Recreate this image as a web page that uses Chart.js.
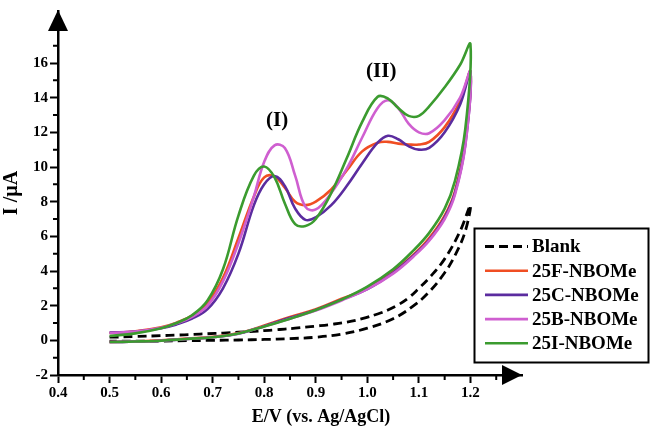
<!DOCTYPE html>
<html>
<head>
<meta charset="utf-8">
<script src="https://cdn.jsdelivr.net/npm/chart.js@4.4.1/dist/chart.umd.min.js"></script>
<style>
  html, body { margin: 0; padding: 0; background: #fff; }
  #wrap { width: 653px; height: 429px; }
</style>
</head>
<body>
<div id="wrap"><canvas id="cv" width="653" height="429"></canvas></div>
<script>
// potentials (V vs Ag/AgCl) for the anodic (forward) and cathodic (reverse) sweep
const potentialFwd = [0.5, 0.55, 0.6, 0.63, 0.66, 0.69, 0.72, 0.75, 0.78, 0.8, 0.82, 0.84, 0.86, 0.88,
                      0.9, 0.93, 0.96, 0.99, 1.02, 1.04, 1.06, 1.08, 1.1, 1.12, 1.15, 1.18, 1.2];
const potentialRev = [1.19, 1.17, 1.15, 1.12, 1.09, 1.05, 1.0, 0.95, 0.9, 0.85, 0.8, 0.75, 0.7, 0.65, 0.6, 0.55, 0.5];

// currents (µA)
const blankFwd = [0.18, 0.22, 0.27, 0.3, 0.34, 0.38, 0.42, 0.47, 0.52, 0.56, 0.6, 0.65, 0.7, 0.76,
                  0.82, 0.92, 1.05, 1.25, 1.52, 1.75, 2.05, 2.45, 3.0, 3.6, 4.7, 6.3, 7.8];
const blankRev = [6.3, 4.9, 3.9, 2.8, 2.0, 1.25, 0.7, 0.36, 0.18, 0.1, 0.05, 0.02, 0.0, -0.02, -0.04, -0.05, -0.05];

const f25Fwd = [0.42, 0.52, 0.75, 1.02, 1.42, 2.15, 3.6, 5.9, 8.3, 9.4, 9.45, 8.8, 8.0, 7.8,
                8.0, 8.7, 9.8, 10.9, 11.4, 11.45, 11.35, 11.3, 11.3, 11.45, 12.3, 13.8, 15.5];
const f25Rev = [11.5, 8.6, 7.2, 5.9, 4.95, 3.95, 3.0, 2.4, 1.8, 1.35, 0.85, 0.42, 0.2, 0.1, 0.0, -0.06, -0.1];

const c25Fwd = [0.45, 0.5, 0.7, 0.92, 1.25, 1.8, 3.0, 5.0, 7.8, 9.0, 9.48, 8.9, 7.6, 6.95,
                7.1, 7.8, 8.9, 10.2, 11.4, 11.8, 11.6, 11.2, 11.0, 11.1, 12.0, 13.6, 15.5];
const c25Rev = [11.3, 8.5, 7.1, 5.8, 4.9, 3.9, 2.95, 2.35, 1.75, 1.3, 0.82, 0.38, 0.18, 0.08, -0.02, -0.07, -0.1];

const b25Fwd = [0.42, 0.5, 0.72, 0.98, 1.35, 2.0, 3.4, 5.6, 8.3, 10.3, 11.25, 11.1, 9.5, 7.7,
                7.55, 8.5, 9.9, 11.7, 13.4, 13.85, 13.4, 12.5, 12.0, 11.95, 12.7, 14.0, 15.5];
const b25Rev = [11.2, 8.4, 7.0, 5.75, 4.85, 3.85, 2.95, 2.3, 1.72, 1.25, 0.8, 0.4, 0.18, 0.08, -0.02, -0.07, -0.1];

const i25Fwd = [0.25, 0.4, 0.7, 1.0, 1.45, 2.3, 4.1, 7.2, 9.5, 10.03, 9.4, 7.9, 6.7, 6.6,
                7.0, 8.5, 10.5, 12.6, 14.05, 13.95, 13.4, 12.95, 12.95, 13.5, 14.6, 15.9, 17.08];
const i25Rev = [12.2, 9.2, 7.6, 6.2, 5.2, 4.1, 3.1, 2.35, 1.75, 1.25, 0.8, 0.4, 0.18, 0.08, -0.02, -0.07, -0.1];

const seriesNames = ['Blank', '25F-NBOMe', '25C-NBOMe', '25B-NBOMe', '25I-NBOMe'];
const seriesColors = ['#000000', '#f04e23', '#5b2c9f', '#cf5fd0', '#3b9b2f'];

const xTicks = [0.4, 0.5, 0.6, 0.7, 0.8, 0.9, 1.0, 1.1, 1.2];
const yTicks = [-2, 0, 2, 4, 6, 8, 10, 12, 14, 16];

const peakLabels = ['(I)', '(II)'];
const peakLabelE = [0.825, 1.027];
const peakLabelI = [12.7, 15.5];

const xTitle = 'E/V (vs. Ag/AgCl)';
const yTitle = 'I /µA';

const SERIF = '"Liberation Serif", "Times New Roman", serif';

function cycle(fwd, rev) {
    const pts = potentialFwd.map((e, i) => ({ x: e, y: fwd[i] }));
    return pts.concat(potentialRev.map((e, i) => ({ x: e, y: rev[i] })));
}

const curves = [
    cycle(blankFwd, blankRev),
    cycle(f25Fwd, f25Rev),
    cycle(c25Fwd, c25Rev),
    cycle(b25Fwd, b25Rev),
    cycle(i25Fwd, i25Rev)
];

const datasets = curves.map((pts, i) => ({
    label: seriesNames[i],
    data: pts,
    borderColor: seriesColors[i],
    borderWidth: i === 0 ? 2.8 : 2.6,
    borderDash: i === 0 ? [9, 5] : [],
    pointRadius: 0,
    tension: 0.4,
    fill: false,
    order: seriesNames.length - i   // green ends up on top
}));

/* ---------- extras: minor ticks, arrows, labels, legend ---------- */
const extrasPlugin = {
    id: 'cvExtras',
    afterDraw(chart) {
        const ctx = chart.ctx;
        const xs = chart.scales.x, ys = chart.scales.y;
        const a = chart.chartArea;
        ctx.save();

        // minor ticks
        ctx.strokeStyle = '#000';
        ctx.lineWidth = 2;
        ctx.beginPath();
        for (let i = 0; i < xTicks.length; i++) {
            const v = xTicks[i] + 0.05;
            if (v > xs.max) break;
            const px = xs.getPixelForValue(v);
            ctx.moveTo(px, a.bottom);
            ctx.lineTo(px, a.bottom + 5);
        }
        for (let i = 0; i < yTicks.length; i++) {
            const py = ys.getPixelForValue(yTicks[i] + 1);
            ctx.moveTo(a.left, py);
            ctx.lineTo(a.left - 5, py);
        }
        ctx.stroke();

        // axis arrows
        ctx.fillStyle = '#000';
        ctx.beginPath();
        ctx.moveTo(a.left, a.top - 1);
        ctx.lineTo(a.left - 10, a.top + 20);
        ctx.lineTo(a.left + 10, a.top + 20);
        ctx.closePath();
        ctx.fill();
        ctx.beginPath();
        ctx.moveTo(a.right, a.bottom);
        ctx.lineTo(a.right - 20, a.bottom - 10);
        ctx.lineTo(a.right - 20, a.bottom + 10);
        ctx.closePath();
        ctx.fill();

        // x axis title (sits right of centre in the original)
        ctx.font = 'bold 18px ' + SERIF;
        ctx.textAlign = 'center';
        ctx.textBaseline = 'middle';
        ctx.fillText(xTitle, 321, 417);

        // peak labels
        ctx.font = 'bold 21px ' + SERIF;
        peakLabels.forEach((t, i) => {
            ctx.fillText(t, xs.getPixelForValue(peakLabelE[i]), ys.getPixelForValue(peakLabelI[i]));
        });

        // legend box
        const bx = 474.5, by = 228.5, bw = 174, bh = 134;
        ctx.fillStyle = '#fff';
        ctx.fillRect(bx, by, bw, bh);
        ctx.lineWidth = 2;
        ctx.strokeStyle = '#000';
        ctx.strokeRect(bx, by, bw, bh);
        ctx.font = 'bold 19px ' + SERIF;
        ctx.textAlign = 'left';
        chart.data.datasets.forEach((ds, i) => {
            const y = 246.5 + i * 24.2;
            ctx.strokeStyle = ds.borderColor;
            ctx.lineWidth = ds.borderWidth;
            ctx.setLineDash(ds.borderDash);
            ctx.beginPath();
            ctx.moveTo(485, y);
            ctx.lineTo(528, y);
            ctx.stroke();
            ctx.setLineDash([]);
            ctx.fillStyle = '#000';
            ctx.fillText(ds.label, 532, y + 1);
        });
        ctx.restore();
    }
};

const tickFont = { family: SERIF, size: 15, weight: 'bold' };

new Chart(document.getElementById('cv'), {
    type: 'line',
    data: { datasets: datasets },
    options: {
        responsive: false,
        devicePixelRatio: 1,
        animation: false,
        layout: { padding: { left: 0, right: 131, top: 0, bottom: 0 } },
        plugins: {
            legend: { display: false },
            tooltip: { enabled: false }
        },
        scales: {
            x: {
                type: 'linear',
                min: 0.4,
                max: 1.3,
                afterBuildTicks: s => { s.ticks = xTicks.map(v => ({ value: v })); },
                afterFit: s => { s.height = 54; },
                ticks: {
                    font: tickFont, color: '#000', padding: 1,
                    maxRotation: 0, autoSkip: false,
                    callback: v => Number(v).toFixed(1)
                },
                grid: { drawOnChartArea: false, tickLength: 8, tickWidth: 2, tickColor: '#000' },
                border: { display: true, color: '#000', width: 2.5 }
            },
            y: {
                type: 'linear',
                min: -2,
                max: 19,
                afterBuildTicks: s => { s.ticks = yTicks.map(v => ({ value: v })); },
                afterFit: s => { s.width = 58; },
                ticks: { font: tickFont, color: '#000', padding: 2, autoSkip: false },
                grid: { drawOnChartArea: false, tickLength: 8, tickWidth: 2, tickColor: '#000' },
                border: { display: true, color: '#000', width: 2.5 },
                title: { display: true, text: yTitle, font: { family: SERIF, size: 20, weight: 'bold' }, color: '#000', padding: 0 }
            }
        }
    },
    plugins: [extrasPlugin]
});
</script>
</body>
</html>
